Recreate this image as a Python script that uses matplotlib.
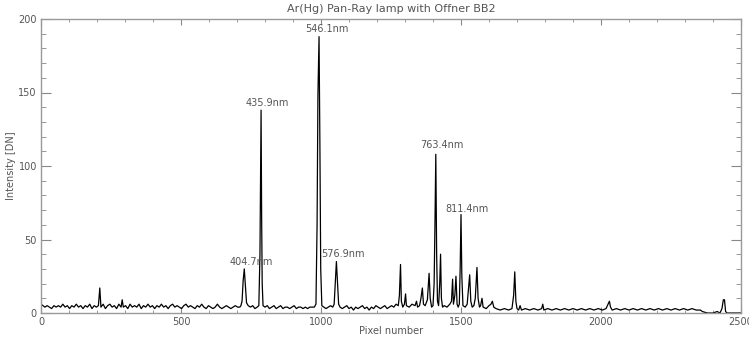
import numpy as np
import matplotlib
matplotlib.use("Agg")
import matplotlib.pyplot as plt
from matplotlib.ticker import MultipleLocator

# spectrum trace (pixel, DN)
pixel = [0, 7, 14, 22, 30, 38, 46, 54, 62, 70, 78, 86, 94, 102, 110, 118, 126, 134,
         142, 150, 158, 166, 174, 182, 190, 198, 205, 210, 214, 222, 230, 238, 246,
         254, 262, 270, 278, 286, 290, 294, 302, 310, 318, 326, 334, 342, 350, 358,
         366, 374, 382, 390, 398, 406, 414, 422, 430, 438, 446, 454, 462, 470, 478,
         486, 494, 502, 510, 518, 526, 534, 542, 550, 558, 566, 574, 582, 590, 598,
         606, 614, 622, 630, 638, 646, 654, 662, 670, 678, 686, 694, 702, 710,
         714, 718, 722, 726, 730, 734, 740, 748, 756, 764, 772, 778,
         782, 784, 786, 788, 790, 793, 800, 808, 816, 824, 832, 840, 848, 856,
         864, 872, 880, 888, 896, 904, 912, 920, 928, 936, 944, 952, 960, 968,
         976, 982, 986, 989, 993, 996, 999, 1003, 1010, 1018, 1026, 1034, 1042,
         1047, 1051, 1055, 1059, 1063, 1068, 1076, 1084, 1092, 1100, 1108, 1116,
         1124, 1132, 1140, 1148, 1156, 1164, 1172, 1180, 1188, 1196, 1204, 1212,
         1220, 1228, 1236, 1244, 1252, 1260, 1268, 1276, 1280, 1284, 1287, 1292,
         1298, 1302, 1305, 1315, 1325, 1336, 1341, 1345, 1352, 1357, 1362, 1366,
         1372, 1380, 1386, 1390, 1395, 1400, 1404, 1407, 1410, 1413, 1416, 1420,
         1424, 1427, 1430, 1434, 1440, 1450, 1460, 1466, 1470, 1473, 1478, 1482,
         1486, 1490, 1494, 1497, 1500, 1503, 1507, 1515, 1522, 1526, 1531, 1535,
         1540, 1546, 1551, 1557, 1561, 1566, 1570, 1575, 1579, 1590, 1600, 1607,
         1612, 1617, 1625, 1640, 1655, 1670, 1682, 1688, 1692, 1696, 1700, 1706,
         1711, 1716, 1730, 1745, 1760, 1775, 1788, 1792, 1796, 1810, 1825, 1840,
         1855, 1870, 1885, 1900, 1915, 1930, 1945, 1960, 1975, 1990, 2005, 2018,
         2025, 2030, 2034, 2040, 2055, 2070, 2085, 2100, 2115, 2130, 2145, 2160,
         2175, 2190, 2205, 2220, 2235, 2250, 2265, 2280, 2295, 2310, 2325, 2340,
         2355, 2362, 2380, 2400, 2415, 2425, 2432, 2437, 2441, 2445, 2450, 2500]
dn = [6, 5, 4, 5, 4, 3, 5, 4, 5, 4, 6, 4, 5, 3, 5, 4, 6, 4,
      5, 3, 5, 4, 6, 3, 5, 4, 5, 17, 4, 6, 3, 5, 6,
      4, 5, 3, 6, 4, 9, 4, 5, 3, 6, 4, 5, 4, 6, 3,
      5, 4, 6, 4, 5, 3, 5, 4, 6, 4, 5, 3, 5, 6, 4,
      5, 4, 3, 5, 6, 4, 5, 4, 3, 5, 4, 6, 4, 3, 5,
      4, 3, 4, 6, 4, 3, 4, 5, 4, 3, 4, 5, 4, 4,
      5, 8, 22, 30, 18, 7, 5, 4, 5, 3, 4, 5,
      40, 90, 138, 65, 20, 5, 4, 5, 3, 4, 5, 3, 4, 5,
      3, 4, 4, 3, 4, 5, 3, 4, 4, 3, 4, 3, 4, 4,
      4, 6, 60, 148, 188, 116, 30, 5, 4, 3, 4, 5, 4,
      6, 20, 35, 20, 6, 4, 3, 4, 5, 3, 4, 2,
      4, 3, 4, 5, 3, 4, 2, 4, 3, 5, 4, 3,
      4, 5, 3, 4, 5, 4, 6, 5, 12, 33, 8, 4,
      6, 13, 5, 4, 6, 5, 8, 4, 5, 10, 17, 6,
      5, 9, 27, 10, 4, 5, 20, 60, 108, 40, 8, 5,
      20, 40, 10, 4, 5, 4, 6, 8, 23, 6, 12, 25,
      6, 4, 6, 30, 67, 25, 5, 4, 6, 15, 26, 8,
      4, 5, 10, 31, 10, 4, 5, 10, 4, 3, 5, 6,
      8, 4, 3, 2, 3, 2, 3, 12, 28, 8, 3, 2,
      5, 2, 3, 2, 3, 2, 3, 6, 2, 3, 2, 3,
      2, 3, 2, 3, 2, 3, 2, 3, 2, 3, 2, 3,
      6, 8, 4, 2, 3, 2, 3, 2, 3, 2, 3, 2,
      3, 2, 3, 2, 3, 2, 3, 2, 3, 2, 3, 2,
      2, 1, 0, 0, 1, 0, 3, 9, 9, 1, 0, 0]

# line labels: text, pixel, DN position of label centre
line_names = ["404.7nm", "435.9nm", "546.1nm", "576.9nm", "763.4nm", "811.4nm"]
label_x = [752, 808, 1020, 1079, 1432, 1520]
label_y = [35, 143, 193, 40, 114, 71]

grey = "#555555"
fig = plt.figure(figsize=(7.49, 3.40), dpi=100)
ax = fig.add_axes([41 / 749, 27 / 340, 700 / 749, 294 / 340])

ax.plot(pixel, dn, color="black", lw=0.9)

for name, lx, ly in zip(line_names, label_x, label_y):
    ax.text(lx, ly, name, ha="center", va="center", fontsize=7, color=grey)

ax.set_xlim(0, 2500)
ax.set_ylim(0, 200)
ax.xaxis.set_major_locator(MultipleLocator(500))
ax.xaxis.set_minor_locator(MultipleLocator(100))
ax.yaxis.set_major_locator(MultipleLocator(50))
ax.yaxis.set_minor_locator(MultipleLocator(10))
ax.tick_params(axis="x", which="major", direction="in", length=4.5, top=True,
               color="#888888", labelcolor=grey, labelsize=7, pad=3)
ax.tick_params(axis="x", which="minor", direction="in", length=2.3, top=True, color="#888888")
ax.tick_params(axis="y", which="major", direction="in", length=7, right=True,
               color="#888888", labelcolor=grey, labelsize=7, pad=3)
ax.tick_params(axis="y", which="minor", direction="in", length=3.6, right=True, color="#888888")
for s in ax.spines.values():
    s.set_color("#999999")
    s.set_linewidth(1.0)

ax.set_title("Ar(Hg) Pan-Ray lamp with Offner BB2", fontsize=8, color=grey, pad=5)
ax.set_xlabel("Pixel number", fontsize=7, color=grey, labelpad=-1)
ax.set_ylabel("Intensity [DN]", fontsize=7, color=grey, labelpad=2)

fig.savefig("out.png", dpi=100)
